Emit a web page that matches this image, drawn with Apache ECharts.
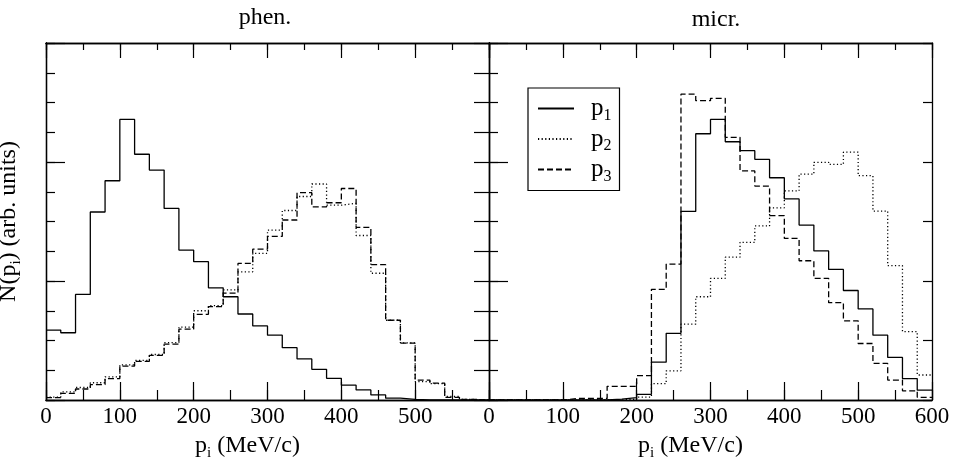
<!DOCTYPE html>
<html>
<head>
<meta charset="utf-8">
<script src="https://cdn.jsdelivr.net/npm/echarts@6/dist/echarts.min.js"></script>
<style>
  html, body { margin: 0; padding: 0; background: #fff; }
  #chart { width: 956px; height: 465px; }
</style>
</head>
<body>
<div id="chart"></div>
<script>
// Histogram bin edges in MeV/c (20 MeV/c bins from 0 to 600)
const binEdges = [0, 20, 40, 60, 80, 100, 120, 140, 160, 180, 200, 220, 240, 260, 280,
  300, 320, 340, 360, 380, 400, 420, 440, 460, 480, 500, 520, 540, 560, 580, 600];

// Phenomenological model: distributions of p1, p2, p3 (arb. units)
const phenP1 = [2.35, 2.26, 3.55, 6.32, 7.37, 9.43, 8.26, 7.73, 6.44, 5.04,
  4.65, 3.77, 3.47, 2.89, 2.49, 2.18, 1.76, 1.38, 1.03, 0.73,
  0.50, 0.34, 0.17, 0.06, 0.02, 0, 0, 0, 0, 0];
const phenP2 = [0.10, 0.27, 0.42, 0.58, 0.78, 1.18, 1.33, 1.53, 1.93, 2.45,
  3.00, 3.17, 3.70, 4.31, 4.93, 5.71, 6.37, 6.84, 7.26, 6.55,
  6.61, 5.53, 4.26, 2.68, 1.92, 0.62, 0.55, 0.12, 0.02, 0];
const phenP3 = [0.08, 0.22, 0.37, 0.52, 0.72, 1.14, 1.30, 1.50, 1.88, 2.38,
  2.88, 3.14, 3.59, 4.59, 5.07, 5.50, 6.05, 6.97, 6.49, 6.63,
  7.11, 5.80, 4.55, 2.68, 1.91, 0.67, 0.57, 0.09, 0.02, 0];

// Microscopic model: distributions of p1, p2, p3 (arb. units)
const micrP1 = [0, 0, 0, 0, 0, 0, 0, 0, 0.03, 0.08,
  0.19, 1.27, 2.24, 6.34, 8.95, 9.43, 8.68, 8.38, 8.09, 7.47,
  6.76, 5.88, 5.01, 4.39, 3.68, 3.06, 2.18, 1.43, 0.72, 0.33];
const micrP2 = [0, 0, 0, 0, 0, 0, 0, 0, 0, 0.03,
  0.10, 0.55, 0.98, 2.55, 3.47, 4.09, 4.80, 5.30, 5.85, 6.46,
  7.03, 7.59, 7.99, 7.92, 8.33, 7.54, 6.35, 4.52, 2.30, 0.84];
const micrP3 = [0, 0, 0, 0, 0, 0.05, 0.05, 0.05, 0.46, 0.46,
  0.82, 3.72, 4.57, 10.28, 10.06, 10.14, 8.83, 7.70, 7.19, 6.20,
  5.43, 4.68, 4.09, 3.27, 2.66, 1.90, 1.23, 0.67, 0.31, 0.09];

// Series names shown in the legend, and panel titles
const seriesNames = ['p1', 'p2', 'p3'];
const panelTitles = ['phen.', 'micr.'];

const FONT = '"Liberation Serif", "DejaVu Serif", serif';
const INK = '#000';

// Per-bin values -> step-line points (left edge of each bin, plus the closing edge)
function stepPoints(values) {
  const pts = values.map((v, i) => [binEdges[i], v]);
  pts.push([binEdges[binEdges.length - 1], values[values.length - 1]]);
  return pts;
}

const lineTypes = { p1: 'solid', p2: [1.2, 2.4], p3: [6, 3] };

function histSeries(name, values, xi, yi) {
  return {
    name: name,
    type: 'line',
    step: 'end',
    xAxisIndex: xi,
    yAxisIndex: yi,
    symbol: 'none',
    silent: true,
    animation: false,
    lineStyle: { color: INK, width: 1.3, type: lineTypes[name] },
    itemStyle: { color: INK },
    data: stepPoints(values)
  };
}

const subRich = {
  n: { fontFamily: FONT, fontSize: 24, color: INK },
  s: { fontFamily: FONT, fontSize: 15, color: INK, verticalAlign: 'bottom', padding: [15, 0, 0, 0] }
};

const lineSt = { color: INK, width: 1.2 };

// A frame edge: axis line plus inward ticks at a fixed spacing
function xEdge(grid, position, interval, tickLen, extra) {
  return Object.assign({
    gridIndex: grid, type: 'value', position: position,
    min: 0, max: 600, interval: interval,
    axisLine: { show: true, onZero: false, lineStyle: { color: INK, width: 1.3 } },
    axisTick: { show: true, inside: true, length: tickLen, lineStyle: lineSt },
    splitLine: { show: false },
    axisLabel: { show: false }
  }, extra || {});
}

function yEdge(grid, position, interval, tickLen, extra) {
  return Object.assign({
    gridIndex: grid, type: 'value', position: position,
    min: 0, max: 12, interval: interval,
    axisLine: { show: true, onZero: false, lineStyle: { color: INK, width: 1.3 } },
    axisTick: { show: true, inside: true, length: tickLen, lineStyle: lineSt },
    splitLine: { show: false },
    axisLabel: { show: false }
  }, extra || {});
}

function bottomLabelled(grid, showMax, shift) {
  return xEdge(grid, 'bottom', 100, 18, {
    axisLabel: { show: true, margin: 5, fontFamily: FONT, fontSize: 23, color: INK,
      showMaxLabel: showMax, showMinLabel: true },
    name: '{n|p}{s|i}{n| (MeV/c)}',
    nameLocation: 'middle',
    nameGap: 31,
    nameTextStyle: { rich: subRich, padding: [0, shift, 0, 0] }
  });
}

const xAxes = [];
const yAxes = [];
[0, 1].forEach(g => {
  xAxes.push(bottomLabelled(g, g === 1, 40));
  xAxes.push(xEdge(g, 'bottom', 50, 10));
  xAxes.push(xEdge(g, 'top', 100, 15));
  xAxes.push(xEdge(g, 'top', 50, 7));
  const left = yEdge(g, 'left', 4, 19);
  if (g === 0) {
    left.name = '{n|N(p}{s|i}{n|) (arb. units)}';
    left.nameLocation = 'middle';
    left.nameGap = 22;
    left.nameRotate = 90;
    left.nameTextStyle = { rich: subRich };
  }
  yAxes.push(left);
  yAxes.push(yEdge(g, 'left', 1, 9));
  yAxes.push(g === 0 ? yEdge(g, 'right', 1, 15) : yEdge(g, 'right', 2, 9));
});

const chart = echarts.init(document.getElementById('chart'), null, { renderer: 'canvas' });

const titleStyle = { fontFamily: FONT, fontSize: 24, fontWeight: 'normal', color: INK };

chart.setOption({
  backgroundColor: '#fff',
  animation: false,
  title: [
    { text: panelTitles[0], left: 260, top: 1, textAlign: 'center', textStyle: titleStyle },
    { text: panelTitles[1], left: 711, top: 3, textAlign: 'center', textStyle: titleStyle }
  ],
  grid: [
    { left: 46, top: 43, width: 443, height: 357, outerBoundsMode: 'none', containLabel: false },
    { left: 489, top: 43, width: 443, height: 357, outerBoundsMode: 'none', containLabel: false }
  ],
  xAxis: xAxes,
  yAxis: yAxes,
  legend: {
    data: seriesNames,
    orient: 'vertical',
    left: 528, top: 88,
    padding: [8, 8, 6, 9],
    itemGap: 3,
    itemWidth: 36,
    itemHeight: 14,
    borderColor: INK,
    borderWidth: 1.2,
    borderRadius: 0,
    selectedMode: false,
    itemStyle: { opacity: 0 },
    formatter: name => '{p|p}{s|' + name.slice(1) + '}',
    textStyle: {
      rich: {
        p: { fontFamily: FONT, fontSize: 25, color: INK, padding: [0, 0, 0, 12], lineHeight: 26 },
        s: { fontFamily: FONT, fontSize: 16, color: INK, verticalAlign: 'bottom', padding: [14, 0, 0, 0] }
      }
    }
  },
  series: [
    histSeries('p1', phenP1, 0, 0),
    histSeries('p2', phenP2, 0, 0),
    histSeries('p3', phenP3, 0, 0),
    histSeries('p1', micrP1, 4, 3),
    histSeries('p2', micrP2, 4, 3),
    histSeries('p3', micrP3, 4, 3)
  ]
});
</script>
</body>
</html>
